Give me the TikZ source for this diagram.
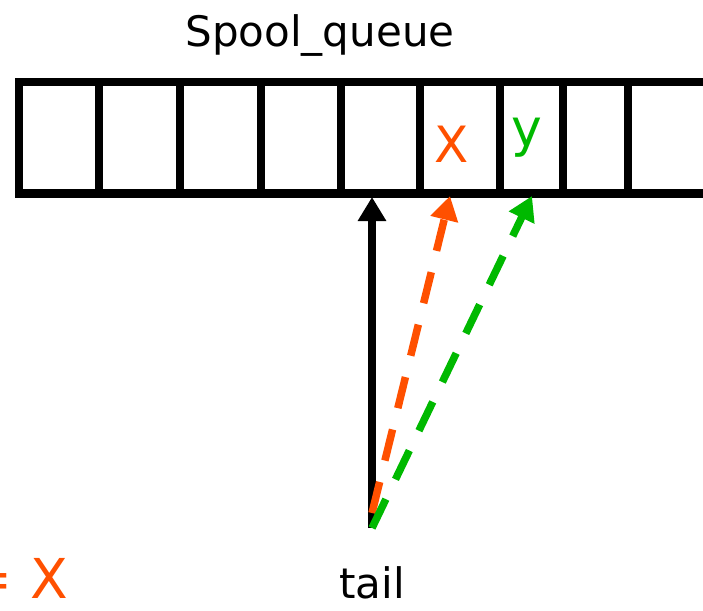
\documentclass[tikz,border=0pt]{standalone}
\usepackage{fontspec}
\setmainfont{DejaVu Sans}
\usetikzlibrary{arrows.meta}
\definecolor{qorange}{RGB}{255,80,0}
\definecolor{qgreen}{RGB}{0,185,0}
\begin{document}
\begin{tikzpicture}[x=1pt,y=-1pt,
  frame/.style={line width=8.5pt, line cap=butt, line join=miter},
  ptr/.style={line width=7.5pt, -{Triangle[length=24pt,width=27pt]}},
  dptr/.style={ptr, dash pattern=on 32pt off 22pt},
  lbl/.style={inner sep=0pt, font=\fontsize{42}{50}\selectfont}]
\useasboundingbox (0,0) rectangle (703,610);
% title
\node[lbl, anchor=base] (title) at (320,47) {Spool\_queue};
% queue frame
\draw[frame] (19,82) rectangle (730,193.5);
\foreach \x in {99,180,261,341,420,500,563,628}
  \draw[frame] (\x,82) -- (\x,193.5);
% cell contents
\node[inner sep=0pt, anchor=base, text=qorange, font=\fontsize{50}{56}\selectfont] (xval) at (452,162) {X};
\node[inner sep=0pt, anchor=base, text=qgreen, font=\fontsize{52}{58}\selectfont] (yval) at (527,146) {y};
% pointer targets and tail point
\coordinate (cell5) at (372,197);
\coordinate (cell6) at (450,196);
\coordinate (cell7) at (532,196);
\coordinate (tailpt) at (372,528);
\coordinate (tailo) at (372,513);
% pointers
\draw[ptr] (tailpt) -- (cell5);
\draw[dptr, qorange] (tailo) -- (cell6);
\draw[dptr, qgreen] (tailpt) -- (cell7);
% labels
\node[lbl, anchor=base] (tail) at (372,598) {tail};
\node[inner sep=0pt, anchor=base east, text=qorange, font=\fontsize{55}{60}\selectfont] (eqx) at (68,598) {= X};
\end{tikzpicture}
\end{document}
